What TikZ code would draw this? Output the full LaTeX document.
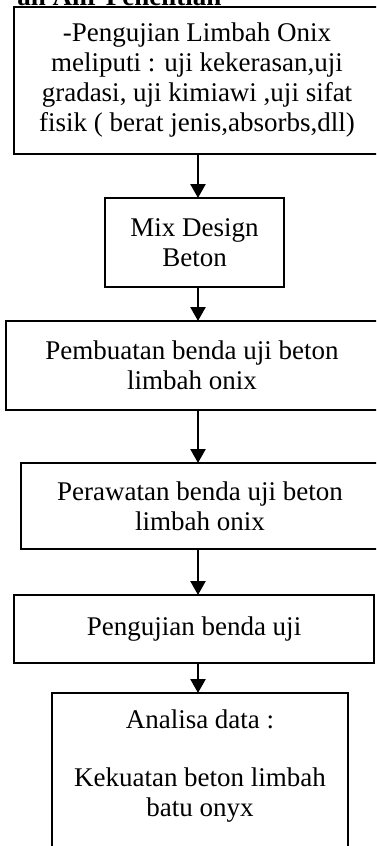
\documentclass[tikz,border=0pt]{standalone}
\usepackage{fontspec}
\setmainfont{Liberation Serif}
\usetikzlibrary{arrows.meta,positioning,calc}
\tikzset{
 alir flow/.style={-{Triangle[width=7.5pt,length=7pt]},line width=1.3pt},
 alir box/.style={draw,line width=1.1pt,inner sep=0pt,outer sep=0pt,
   align=center,font=\fontsize{13.5}{15}\selectfont},
}

\begin{document}
\begin{tikzpicture}[x=.5pt,y=-.5pt]
\useasboundingbox (0,0) rectangle (376,846);
\clip (0,0) rectangle (376,846);
\node[anchor=base west,inner sep=0pt,font=\fontsize{13.5}{15}\selectfont\bfseries]
 (judul) at (17,5.5) {an Alir Penelitian};
\node[alir box,minimum width=183pt,minimum height=73.5pt] (uji) at (197,80.5)
 {-Pengujian Limbah Onix\\meliputi : uji kekerasan,uji\\gradasi, uji kimiawi ,uji sifat\\fisik ( berat jenis,absorbs,dll)};
\node[alir box,minimum width=89.5pt,minimum height=44.5pt] (mix) at (194.5,242.5)
 {Mix Design\\Beton};
\node[alir box,minimum width=186pt,minimum height=44.5pt] (buat) at (192,365.5)
 {Pembuatan benda uji beton\\limbah onix};
\node[alir box,minimum width=179pt,minimum height=43pt] (rawat) at (200,506)
 {Perawatan benda uji beton\\limbah onix};
\node[alir box,minimum width=180pt,minimum height=34pt] (tes) at (194,629)
 {Pengujian benda uji};
\node[alir box,minimum width=148pt,minimum height=88.5pt] (analisa) at (200,781.5)
 {Analisa data :\\[14pt]Kekuatan beton limbah\\batu onyx\\[-1.5pt]\strut};
\coordinate (poros) at (198,0);
\draw[alir flow] (uji.south -| poros) -- (mix.north -| poros);
\draw[alir flow] (mix.south -| poros) -- (buat.north -| poros);
\draw[alir flow] (buat.south -| poros) -- (rawat.north -| poros);
\draw[alir flow] (rawat.south -| poros) -- (tes.north -| poros);
\draw[alir flow] (tes.south -| poros) -- (analisa.north -| poros);
\end{tikzpicture}
\end{document}
